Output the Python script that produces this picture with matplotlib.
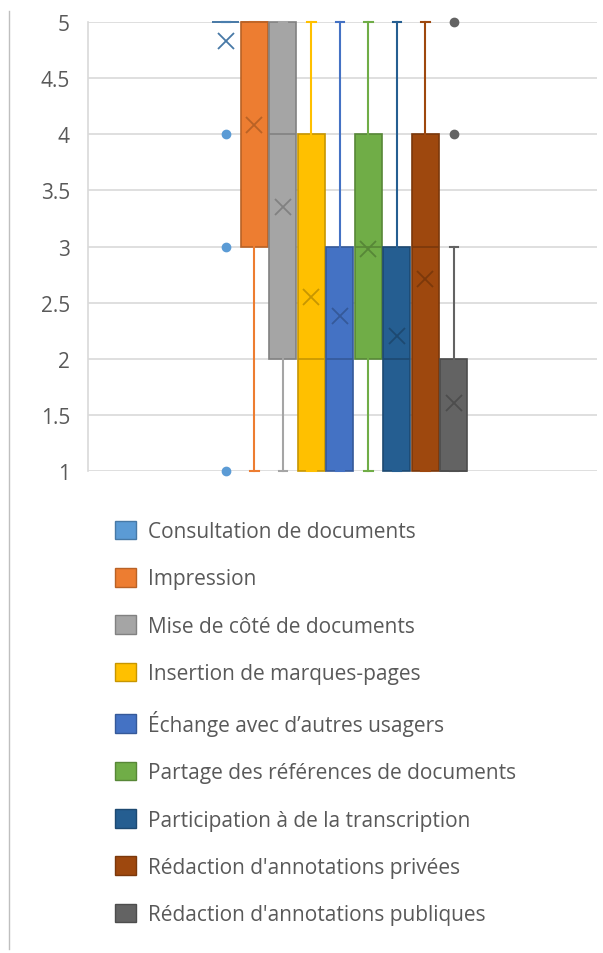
import matplotlib
matplotlib.use("Agg")
import matplotlib.pyplot as plt
from matplotlib.patches import Patch
from matplotlib.lines import Line2D
import matplotlib.colors as mcolors
import numpy as np

plt.rcParams['font.family'] = ['Open Sans', 'DejaVu Sans']

labels = ["Consultation de documents", "Impression", "Mise de côté de documents",
          "Insertion de marques-pages", "Échange avec d’autres usagers",
          "Partage des références de documents", "Participation à de la transcription",
          "Rédaction d'annotations privées", "Rédaction d'annotations publiques"]
colors = ["#5B9BD5", "#ED7D31", "#A5A5A5", "#FFC000", "#4472C4",
          "#70AD47", "#255E91", "#9E480E", "#636363"]
q1 = [5, 3, 2, 1, 1, 2, 1, 1, 1]
med = [5, 5, 4, 2, 2, 3, 2, 3, 1]
q3 = [5, 5, 5, 4, 3, 4, 3, 4, 2]
whislo = [5, 1, 1, 1, 1, 1, 1, 1, 1]
whishi = [5, 5, 5, 5, 5, 5, 5, 5, 3]
means = [4.83, 4.08, 3.35, 2.55, 2.38, 2.98, 2.20, 2.71, 1.61]
outliers = [[4, 3, 1], [], [], [], [], [], [], [], [4, 5]]
yticks = [1, 1.5, 2, 2.5, 3, 3.5, 4, 4.5, 5]

W, H = 603, 954
fig = plt.figure(figsize=(W / 100, H / 100), dpi=100)
ax = fig.add_axes([88 / W, 1 - 472 / H, (597 - 88) / W, (472 - 23) / H])

def darker(c, f=0.78):
    r, g, b = mcolors.to_rgb(c)
    return (r * f, g * f, b * f)

step = 0.056
center = 0.495
for i in range(len(labels)):
    st = dict(q1=q1[i], med=med[i], q3=q3[i], whislo=whislo[i], whishi=whishi[i],
              mean=means[i], fliers=outliers[i], label=labels[i])
    c = colors[i]
    d = darker(c)
    ax.bxp([st], positions=[center + (i - 4) * step], widths=0.053,
           patch_artist=True, showmeans=True, manage_ticks=False,
           boxprops=dict(facecolor=c, edgecolor=d, linewidth=1.2),
           medianprops=dict(color=d, linewidth=1.2),
           whiskerprops=dict(color=c, linewidth=1.5),
           capprops=dict(color=c, linewidth=1.5),
           capwidths=0.016,
           meanprops=dict(marker='x', markeredgecolor=d, markersize=11, markeredgewidth=1.3),
           flierprops=dict(marker='o', markerfacecolor=c, markeredgecolor=c, markersize=6))

for art in ax.get_children():
    try:
        art.set_clip_on(False)
    except Exception:
        pass

ax.set_xlim(0, 1)
ax.set_ylim(1, 5)
ax.set_yticks(yticks)
ax.set_yticklabels([f"{v:g}" for v in yticks])
ax.yaxis.grid(True, color="#D9D9D9", linewidth=1.2)
ax.set_axisbelow(True)
ax.set_xticks([])
for s in ["top", "right", "bottom"]:
    ax.spines[s].set_visible(False)
ax.spines["left"].set_color("#D9D9D9")
ax.spines["left"].set_linewidth(1.2)
ax.tick_params(axis='y', length=0, pad=13, labelsize=15, labelcolor="#595959")

# left frame line
fig.add_artist(Line2D([8.5 / W, 8.5 / W], [1 - 12 / H, 1 - 950 / H], color="#BFBFBF", linewidth=1))

handles = [Patch(facecolor=c, edgecolor=darker(c), linewidth=1) for c in colors]
fig.legend(handles, labels, loc="upper left", bbox_to_anchor=(96 / W, 1 - 503 / H),
           frameon=False, fontsize=15, labelcolor="#595959",
           handlelength=1.0, handleheight=1.0, handletextpad=0.58, labelspacing=1.24)

fig.savefig("out.png", dpi=100)
